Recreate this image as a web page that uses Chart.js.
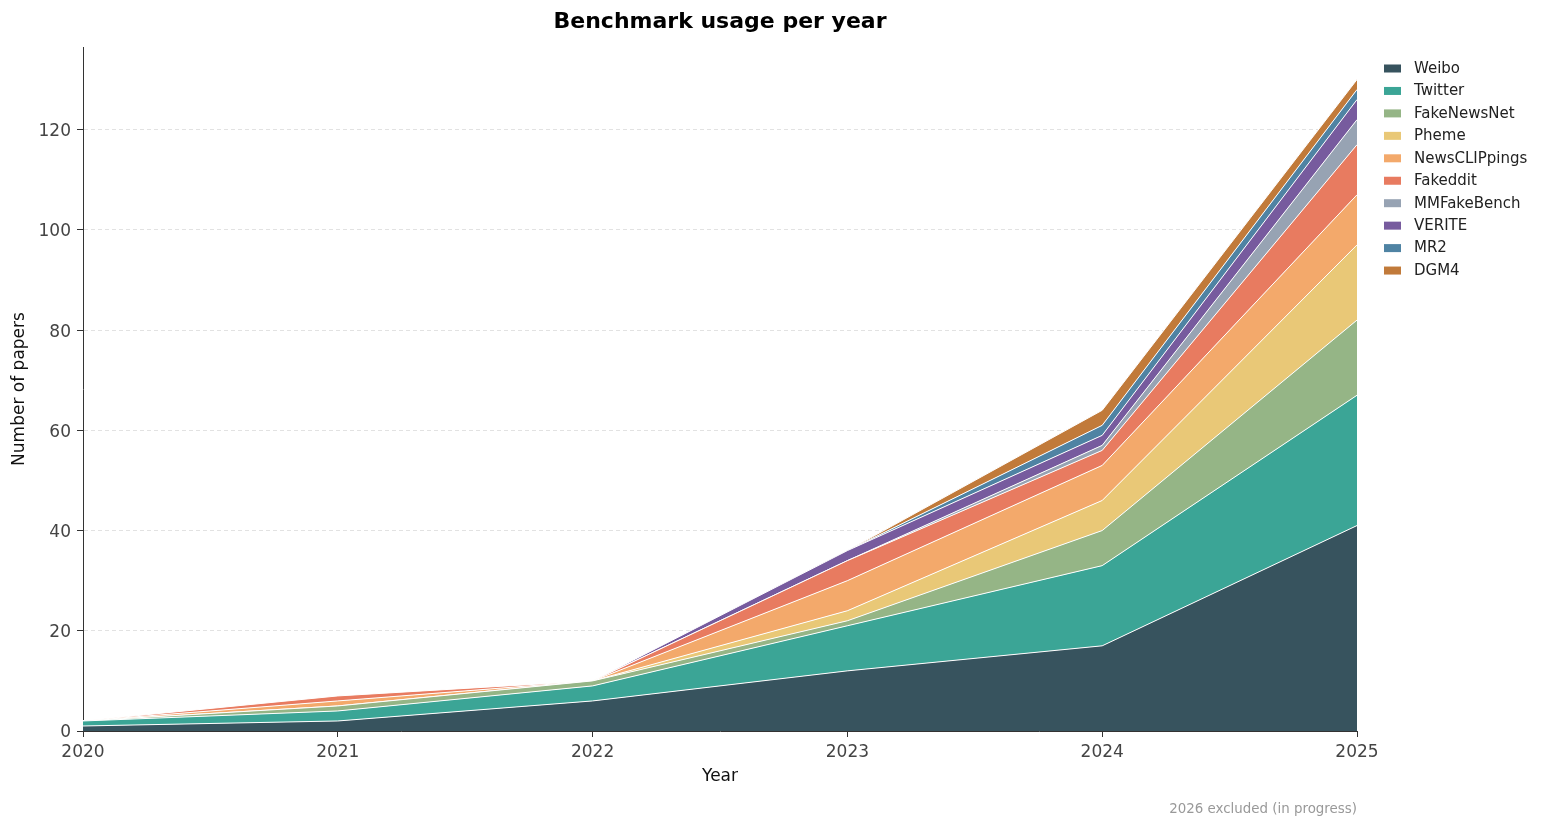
<!DOCTYPE html>
<html>
<head>
<meta charset="utf-8">
<script src="https://cdn.jsdelivr.net/npm/chart.js@4"></script>
<style>
html,body{margin:0;padding:0;background:#fff;}
#wrap{width:1545px;height:828px;}
</style>
</head>
<body>
<div id="wrap"><canvas id="c" width="1545" height="828"></canvas></div>
<script>
const years = [2020, 2021, 2022, 2023, 2024, 2025];
const weibo = [1, 2, 6, 12, 17, 41];
const twitter = [1, 2, 3, 9, 16, 26];
const fakeNewsNet = [0, 1, 1, 1, 7, 15];
const pheme = [0, 0, 0, 2, 6, 15];
const newsClippings = [0, 1, 0, 6, 7, 10];
const fakeddit = [0, 1, 0, 4, 3, 10];
const mmFakeBench = [0, 0, 0, 0, 1, 5];
const verite = [0, 0, 0, 2, 2, 4];
const mr2 = [0, 0, 0, 0, 2, 2];
const dgm4 = [0, 0, 0, 0, 3, 2];
const seriesNames = ['Weibo','Twitter','FakeNewsNet','Pheme','NewsCLIPpings','Fakeddit','MMFakeBench','VERITE','MR2','DGM4'];
const seriesValues = [weibo, twitter, fakeNewsNet, pheme, newsClippings, fakeddit, mmFakeBench, verite, mr2, dgm4];
const seriesColors = ['#37535e','#3ba596','#95b586','#e9c877','#f3a96b','#e87b60','#97a3b3','#775b9e','#4f83a3','#c17a3a'];
const yTicks = [0, 20, 40, 60, 80, 100, 120];
const titleText = 'Benchmark usage per year';
const xLabel = 'Year';
const yLabel = 'Number of papers';
const footnote = '2026 excluded (in progress)';

Chart.defaults.font.family = "'DejaVu Sans', sans-serif";

const datasets = seriesNames.map((name, i) => ({
  label: name,
  data: years.map((yr, j) => ({x: yr, y: seriesValues[i][j]})),
  backgroundColor: seriesColors[i],
  borderColor: '#ffffff',
  borderWidth: 1,
  pointRadius: 0,
  pointHoverRadius: 0,
  tension: 0,
  fill: i === 0 ? 'origin' : '-1'
}));

const decor = {
  id: 'decor',
  afterDraw(chart) {
    const ctx = chart.ctx;
    const a = chart.chartArea;
    const cx = (a.left + a.right) / 2;
    ctx.save();
    // title
    ctx.fillStyle = '#000';
    ctx.font = "bold 22px 'DejaVu Sans'";
    ctx.textAlign = 'center';
    ctx.textBaseline = 'middle';
    ctx.fillText(titleText, cx, 22);
    // x label
    ctx.font = "17px 'DejaVu Sans'";
    ctx.fillStyle = '#111';
    ctx.fillText(xLabel, cx, 777);
    // y label
    ctx.save();
    ctx.translate(20, (a.top + a.bottom) / 2);
    ctx.rotate(-Math.PI / 2);
    ctx.fillText(yLabel, 0, 0);
    ctx.restore();
    // footnote
    ctx.font = "13.4px 'DejaVu Sans'";
    ctx.fillStyle = '#999';
    ctx.textAlign = 'right';
    ctx.fillText(footnote, a.right, 810);
    // legend
    ctx.font = "15px 'DejaVu Sans'";
    ctx.textAlign = 'left';
    seriesNames.forEach((n, i) => {
      const y = 68.5 + i * 22.45;
      ctx.fillStyle = seriesColors[i];
      ctx.fillRect(1384, y - 4, 17, 8);
      ctx.fillStyle = '#222';
      ctx.fillText(n, 1414, y + 0.5);
    });
    ctx.restore();
  }
};

new Chart(document.getElementById('c'), {
  type: 'line',
  data: { datasets },
  plugins: [decor],
  options: {
    responsive: false,
    animation: false,
    devicePixelRatio: 1,
    layout: { padding: { left: 0, right: 188, top: 47, bottom: 0 } },
    plugins: {
      legend: { display: false },
      title: { display: false },
      tooltip: { enabled: false },
      filler: { propagate: false }
    },
    scales: {
      x: {
        type: 'linear',
        min: years[0],
        max: years[years.length - 1],
        afterFit(s) { s.height = 97; },
        afterBuildTicks(s) { s.ticks = years.map(v => ({value: v})); },
        ticks: {
          color: '#444',
          font: { size: 17 },
          padding: 5,
          maxRotation: 0,
          callback: v => String(v)
        },
        grid: {
          drawOnChartArea: false,
          drawTicks: true,
          tickLength: 6,
          tickColor: '#333'
        },
        border: { display: true, color: '#333', width: 1 }
      },
      y: {
        type: 'linear',
        stacked: true,
        min: 0,
        max: 136.5,
        afterFit(s) { s.width = 83; },
        afterBuildTicks(s) { s.ticks = yTicks.map(v => ({value: v})); },
        ticks: {
          color: '#444',
          font: { size: 17 },
          padding: 6,
          labelOffset: 2,
          callback: v => String(v)
        },
        grid: {
          color: c => (c.tick && c.tick.value === 0) ? 'rgba(0,0,0,0)' : '#e2e2e2',
          lineWidth: 1,
          drawTicks: true,
          tickLength: 6,
          tickColor: '#333',
          tickBorderDash: []
        },
        border: { display: true, color: '#333', width: 1, dash: [4, 3] }
      }
    }
  }
});
</script>
</body>
</html>
